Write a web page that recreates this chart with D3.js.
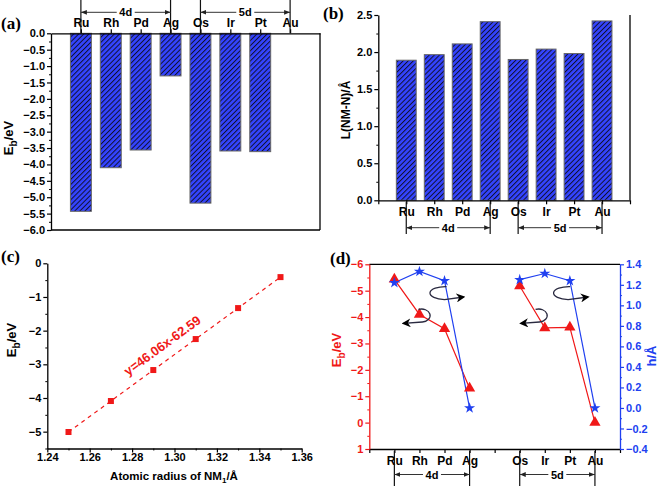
<!DOCTYPE html>
<html><head><meta charset="utf-8">
<script src="https://cdn.jsdelivr.net/npm/d3@7"></script>
<style>
html,body{margin:0;padding:0;background:#fff;}
svg{display:block;}
</style></head>
<body>
<svg id="chart" width="661" height="486"></svg>
<script>
// ---------------- data ----------------
const metals = ["Ru","Rh","Pd","Ag","Os","Ir","Pt","Au"];
const bindingEnergy = [-5.43, -4.10, -3.56, -1.30, -5.18, -3.59, -3.61, 0.0];     // (a) & (d) Eb/eV
const bondLength = [1.89, 1.965, 2.11, 2.41, 1.90, 2.04, 1.98, 2.42];              // (b) L(NM-N)/Å
const atomicRadius = [1.25, 1.27, 1.29, 1.31, 1.33, 1.35];                          // (c) x
const ebVsRadius = [-5.01, -4.09, -3.17, -2.25, -1.33, -0.41];                      // (c) y
const heightH = [1.22, 1.33, 1.24, 0.0, 1.25, 1.31, 1.24, 0.0];                      // (d) h/Å
const fitText = "y=46.06x-62.59";
const ticksA = d3.range(0, -6.01, -0.5);
const ticksB = d3.range(0, 2.51, 0.5);
const ticksCx = [1.24,1.26,1.28,1.30,1.32,1.34,1.36];
const ticksCy = [0,-1,-2,-3,-4,-5];
const ticksDL = [-6,-5,-4,-3,-2,-1,0,1];
const ticksDR = [1.4,1.2,1.0,0.8,0.6,0.4,0.2,0.0,-0.2,-0.4];

// ---------------- setup ----------------
const svg = d3.select("#chart");
const FONT = "'Liberation Sans', Arial, sans-serif";
const RED = "#f01818", BLUE = "#2040f0", BARBLUE = "#3444ff";

const defs = svg.append("defs");
const pat = defs.append("pattern").attr("id","hatch").attr("patternUnits","userSpaceOnUse")
  .attr("width",3.6).attr("height",3.6).attr("patternTransform","rotate(45)");
pat.append("rect").attr("width",3.6).attr("height",3.6).attr("fill",BARBLUE);
pat.append("rect").attr("width",1.0).attr("height",3.6).attr("fill","#101030");
function arrowMarker(id){
  const m = defs.append("marker").attr("id",id).attr("viewBox","0 0 10 10").attr("refX",10).attr("refY",5)
    .attr("markerWidth",6).attr("markerHeight",6).attr("orient","auto-start-reverse").attr("markerUnits","userSpaceOnUse");
  m.append("path").attr("d","M0,1 L10,5 L0,9 Z").attr("fill","#222");
}
arrowMarker("arr");
const bigArr = defs.append("marker").attr("id","bigarr").attr("viewBox","0 0 10 10").attr("refX",8).attr("refY",5)
  .attr("markerWidth",9).attr("markerHeight",9).attr("orient","auto").attr("markerUnits","userSpaceOnUse");
bigArr.append("path").attr("d","M0,0 L10,5 L0,10 L3,5 Z").attr("fill","#000");

function styleAxis(g, color, fs){
  g.selectAll("path.domain").attr("stroke",color).attr("stroke-width",1.3);
  g.selectAll(".tick line").attr("stroke",color).attr("stroke-width",1.2);
  g.selectAll(".tick text").attr("fill",color).style("font-family",FONT).style("font-weight","bold").style("font-size",(fs||11)+"px");
  return g;
}
function minor(g, color){
  g.selectAll("path.domain").remove();
  g.selectAll(".tick text").remove();
  g.selectAll(".tick line").attr("stroke",color).attr("stroke-width",1);
}
function panelLabel(txt,x,y){
  svg.append("text").attr("x",x).attr("y",y).text(txt)
    .style("font-family","'Liberation Serif', 'Times New Roman', serif").style("font-weight","bold").style("font-size","17px");
}
function ebLabel(x,y,color){
  const t = svg.append("text").attr("transform",`translate(${x},${y}) rotate(-90)`).attr("text-anchor","middle")
    .attr("fill",color).style("font-family",FONT).style("font-weight","bold").style("font-size","13px");
  t.append("tspan").text("E");
  t.append("tspan").text("b").attr("dy",4).style("font-size","10px");
  t.append("tspan").text("/eV").attr("dy",-4);
}
function bracket(xs, x1, x2, yLine, yA, yB, name){
  svg.append("line").attr("x1",xs(x1)).attr("x2",xs(x1)).attr("y1",yA).attr("y2",yB).attr("stroke","#111").attr("stroke-width",1.2);
  svg.append("line").attr("x1",xs(x2)).attr("x2",xs(x2)).attr("y1",yA).attr("y2",yB).attr("stroke","#111").attr("stroke-width",1.2);
  const mid = (xs(x1)+xs(x2))/2;
  svg.append("line").attr("x1",mid-9).attr("x2",xs(x1)).attr("y1",yLine).attr("y2",yLine).attr("stroke","#333").attr("stroke-width",1).attr("marker-end","url(#arr)");
  svg.append("line").attr("x1",mid+9).attr("x2",xs(x2)).attr("y1",yLine).attr("y2",yLine).attr("stroke","#333").attr("stroke-width",1).attr("marker-end","url(#arr)");
  svg.append("text").attr("x",mid).attr("y",yLine+4).attr("text-anchor","middle").text(name)
    .style("font-family",FONT).style("font-weight","bold").style("font-size","11px");
}

// ---------------- (a) ----------------
{
  const x = d3.scaleLinear().domain([0,9]).range([51,320]);
  const y = d3.scaleLinear().domain([0,-6]).range([33.3,230]);
  const bw = (x(1)-x(0))*0.7;
  svg.append("g").selectAll("rect").data(bindingEnergy).join("rect")
    .attr("x",(d,i)=>x(i+1)-bw/2).attr("width",bw)
    .attr("y",y(0)).attr("height",d=>Math.max(0,y(d)-y(0)))
    .attr("fill","url(#hatch)").attr("stroke","#666").attr("stroke-width",1)
    .attr("display",d=>d===0?"none":null);
  svg.append("line").attr("x1",x(0)).attr("x2",x(9)).attr("y1",y(-6)).attr("y2",y(-6)).attr("stroke","#000").attr("stroke-width",1.3);
  svg.append("line").attr("x1",x(9)).attr("x2",x(9)).attr("y1",y(0)).attr("y2",y(-6)).attr("stroke","#000").attr("stroke-width",1.3);
  styleAxis(svg.append("g").attr("transform",`translate(${x(0)},0)`)
    .call(d3.axisLeft(y).tickValues(ticksA).tickFormat(d3.format(".1f")).tickSize(4).tickSizeOuter(0).tickPadding(2)),"#000");
  minor(svg.append("g").attr("transform",`translate(${x(0)},0)`).call(d3.axisLeft(y).tickValues(d3.range(-0.25,-6,-0.5)).tickSize(2)),"#000");
  styleAxis(svg.append("g").attr("transform",`translate(0,${y(0)})`)
    .call(d3.axisTop(x).tickValues(d3.range(1,9)).tickFormat(d=>metals[d-1]).tickSize(4).tickSizeOuter(0).tickPadding(2)),"#000",12);
  ebLabel(13,138,"#000");
  bracket(x,1,4,12.3,0,33.3,"4d");
  bracket(x,5,8,12.3,0,33.3,"5d");
  panelLabel("(a)",1,29);
}

// ---------------- (b) ----------------
{
  const x = d3.scaleLinear().domain([0,9]).range([378.3,630]);
  const y = d3.scaleLinear().domain([0,2.5]).range([200.3,15]);
  const bw = (x(1)-x(0))*0.71;
  svg.append("g").selectAll("rect").data(bondLength).join("rect")
    .attr("x",(d,i)=>x(i+1)-bw/2).attr("width",bw)
    .attr("y",d=>y(d)).attr("height",d=>y(0)-y(d))
    .attr("fill","url(#hatch)").attr("stroke","#666").attr("stroke-width",1);
  svg.append("line").attr("x1",x(9)).attr("x2",x(9)).attr("y1",y(0)).attr("y2",y(2.5)).attr("stroke","#000").attr("stroke-width",1.3);
  styleAxis(svg.append("g").attr("transform",`translate(${x(0)},0)`)
    .call(d3.axisLeft(y).tickValues(ticksB).tickFormat(d3.format(".1f")).tickSize(4).tickSizeOuter(0).tickPadding(2)),"#000");
  minor(svg.append("g").attr("transform",`translate(${x(0)},0)`).call(d3.axisLeft(y).tickValues(d3.range(0.25,2.5,0.5)).tickSize(2)),"#000");
  styleAxis(svg.append("g").attr("transform",`translate(0,${y(0)})`)
    .call(d3.axisBottom(x).tickValues(d3.range(0,10)).tickFormat(d=>d>=1&&d<=8?metals[d-1]:"").tickSize(4).tickSizeOuter(0).tickPadding(3)),"#000",12);
  svg.append("text").attr("transform",`translate(350,110) rotate(-90)`).attr("text-anchor","middle")
    .text("L(NM-N)/Å").style("font-family",FONT).style("font-weight","bold").style("font-size","12px");
  bracket(x,1,4,227.7,202,234,"4d");
  bracket(x,5,8,227.7,202,234,"5d");
  panelLabel("(b)",323,19);
}

// ---------------- (c) ----------------
{
  const x = d3.scaleLinear().domain([1.24,1.36]).range([47.3,301.7]);
  const y = d3.scaleLinear().domain([0,-5.5]).range([263.3,448.5]);
  const pts = atomicRadius.map((r,i)=>[r, ebVsRadius[i]]);
  svg.append("path").datum(pts).attr("d",d3.line().x(d=>x(d[0])).y(d=>y(d[1])))
    .attr("fill","none").attr("stroke",RED).attr("stroke-width",1.2).attr("stroke-dasharray","4,4");
  svg.append("g").selectAll("rect").data(pts).join("rect")
    .attr("x",d=>x(d[0])-3).attr("y",d=>y(d[1])-3).attr("width",6).attr("height",6).attr("fill",RED);
  styleAxis(svg.append("g").attr("transform",`translate(${x(1.24)},0)`)
    .call(d3.axisLeft(y).tickValues(ticksCy).tickFormat(d3.format("d")).tickSize(4).tickSizeOuter(0).tickPadding(2)),"#000");
  minor(svg.append("g").attr("transform",`translate(${x(1.24)},0)`).call(d3.axisLeft(y).tickValues(d3.range(-0.5,-5.6,-1)).tickSize(2)),"#000");
  styleAxis(svg.append("g").attr("transform",`translate(0,${y(-5.5)})`)
    .call(d3.axisBottom(x).tickValues(ticksCx).tickFormat(d3.format(".2f")).tickSize(4).tickSizeOuter(0).tickPadding(1)),"#000");
  minor(svg.append("g").attr("transform",`translate(0,${y(-5.5)})`).call(d3.axisBottom(x).tickValues(d3.range(1.25,1.36,0.02)).tickSize(2)),"#000");
  const p0 = pts[0], p1 = pts[pts.length-1];
  const ang = Math.atan2(y(p1[1])-y(p0[1]), x(p1[0])-x(p0[0]))*180/Math.PI;
  const tx = x(1.2955), ty = y(-2.55);
  svg.append("text").attr("transform",`translate(${tx},${ty}) rotate(${ang})`).attr("text-anchor","middle")
    .text(fitText).attr("fill",RED).style("font-family",FONT).style("font-weight","bold").style("font-size","13px");
  ebLabel(16,340,"#000");
  const xl = svg.append("text").attr("x",174).attr("y",480).attr("text-anchor","middle")
    .style("font-family",FONT).style("font-weight","bold").style("font-size","11.5px");
  xl.append("tspan").text("Atomic radius of NM");
  xl.append("tspan").text("1").attr("dy",3).style("font-size","8px");
  xl.append("tspan").text("/Å").attr("dy",-3);
  panelLabel("(c)",1,262);
}

// ---------------- (d) ----------------
{
  const x = d3.scaleLinear().domain([0,10]).range([369.3,620]);
  const yL = d3.scaleLinear().domain([-6,1]).range([264.3,449]);
  const yR = d3.scaleLinear().domain([1.4,-0.4]).range([264.3,449]);
  const pos = [1,2,3,4,6,7,8,9];
  svg.append("line").attr("x1",x(0)).attr("x2",x(10)).attr("y1",yL(-6)).attr("y2",yL(-6)).attr("stroke","#000").attr("stroke-width",1.3);
  styleAxis(svg.append("g").attr("transform",`translate(0,${yL(1)})`)
    .call(d3.axisBottom(x).tickValues(d3.range(0,11)).tickFormat(d=>{const k=pos.indexOf(d);return k>=0?metals[k]:"";}).tickSize(4).tickSizeOuter(0).tickPadding(3)),"#000",12);
  styleAxis(svg.append("g").attr("transform",`translate(${x(0)},0)`)
    .call(d3.axisLeft(yL).tickValues(ticksDL).tickFormat(d3.format("d")).tickSize(4).tickSizeOuter(0).tickPadding(2)),RED);
  minor(svg.append("g").attr("transform",`translate(${x(0)},0)`).call(d3.axisLeft(yL).tickValues(d3.range(-5.5,1,1)).tickSize(2)),RED);
  styleAxis(svg.append("g").attr("transform",`translate(${x(10)},0)`)
    .call(d3.axisRight(yR).tickValues(ticksDR).tickFormat(d3.format(".1f")).tickSize(4).tickSizeOuter(0).tickPadding(2)),BLUE);
  minor(svg.append("g").attr("transform",`translate(${x(10)},0)`).call(d3.axisRight(yR).tickValues(d3.range(1.3,-0.4,-0.2)).tickSize(2)),BLUE);
  const segs = [[0,1,2,3],[4,5,6,7]];
  const lineL = d3.line().x(i=>x(pos[i])).y(i=>yL(bindingEnergy[i]));
  const lineR = d3.line().x(i=>x(pos[i])).y(i=>yR(heightH[i]));
  segs.forEach(s=>{
    svg.append("path").attr("d",lineL(s)).attr("fill","none").attr("stroke",RED).attr("stroke-width",1.2);
    svg.append("path").attr("d",lineR(s)).attr("fill","none").attr("stroke",BLUE).attr("stroke-width",1.2);
  });
  svg.append("g").selectAll("path").data(bindingEnergy).join("path")
    .attr("transform",(d,i)=>`translate(${x(pos[i])},${yL(d)})`)
    .attr("d",d3.symbol(d3.symbolTriangle,55)).attr("fill",RED);
  svg.append("g").selectAll("path").data(heightH).join("path")
    .attr("transform",(d,i)=>`translate(${x(pos[i])},${yR(d)})`)
    .attr("d",d3.symbol(d3.symbolStar,38)).attr("fill",BLUE);
  function rightArrow(cx, cy, tipX, tipY){
    const rx=15.5, ry=6.5;
    svg.append("path").attr("d",`M${cx+4},${cy-ry} A${rx},${ry} 0 1 0 ${cx+2},${cy+ry} L${tipX},${tipY}`)
      .attr("fill","none").attr("stroke","#2a2a40").attr("stroke-width",1.3).attr("marker-end","url(#bigarr)");
  }
  function leftArrow(cx, cy, tipX, tipY){
    const rx=8.5, ry=6.5;
    svg.append("path").attr("d",`M${cx-5},${cy-ry+0.5} A${rx},${ry} 0 1 1 ${cx-1},${cy+ry} L${tipX},${tipY}`)
      .attr("fill","none").attr("stroke","#2a2a40").attr("stroke-width",1.3).attr("marker-end","url(#bigarr)");
  }
  rightArrow(x(2.92), yL(-4.91), x(3.76), yL(-4.76));
  rightArrow(x(7.85), yL(-4.91), x(8.72), yL(-4.76));
  leftArrow(x(2.16), yL(-4.06), x(1.36), yL(-3.76));
  leftArrow(x(6.83), yL(-4.06), x(6.05), yL(-3.76));
  ebLabel(341,350,RED);
  svg.append("text").attr("transform",`translate(656,356) rotate(-90)`).attr("text-anchor","middle")
    .text("h/Å").attr("fill",BLUE).style("font-family",FONT).style("font-weight","bold").style("font-size","13px");
  bracket(x,1,4,474.5,451,486,"4d");
  bracket(x,6,9,474.5,451,486,"5d");
  panelLabel("(d)",330,264);
}
</script>
</body></html>
